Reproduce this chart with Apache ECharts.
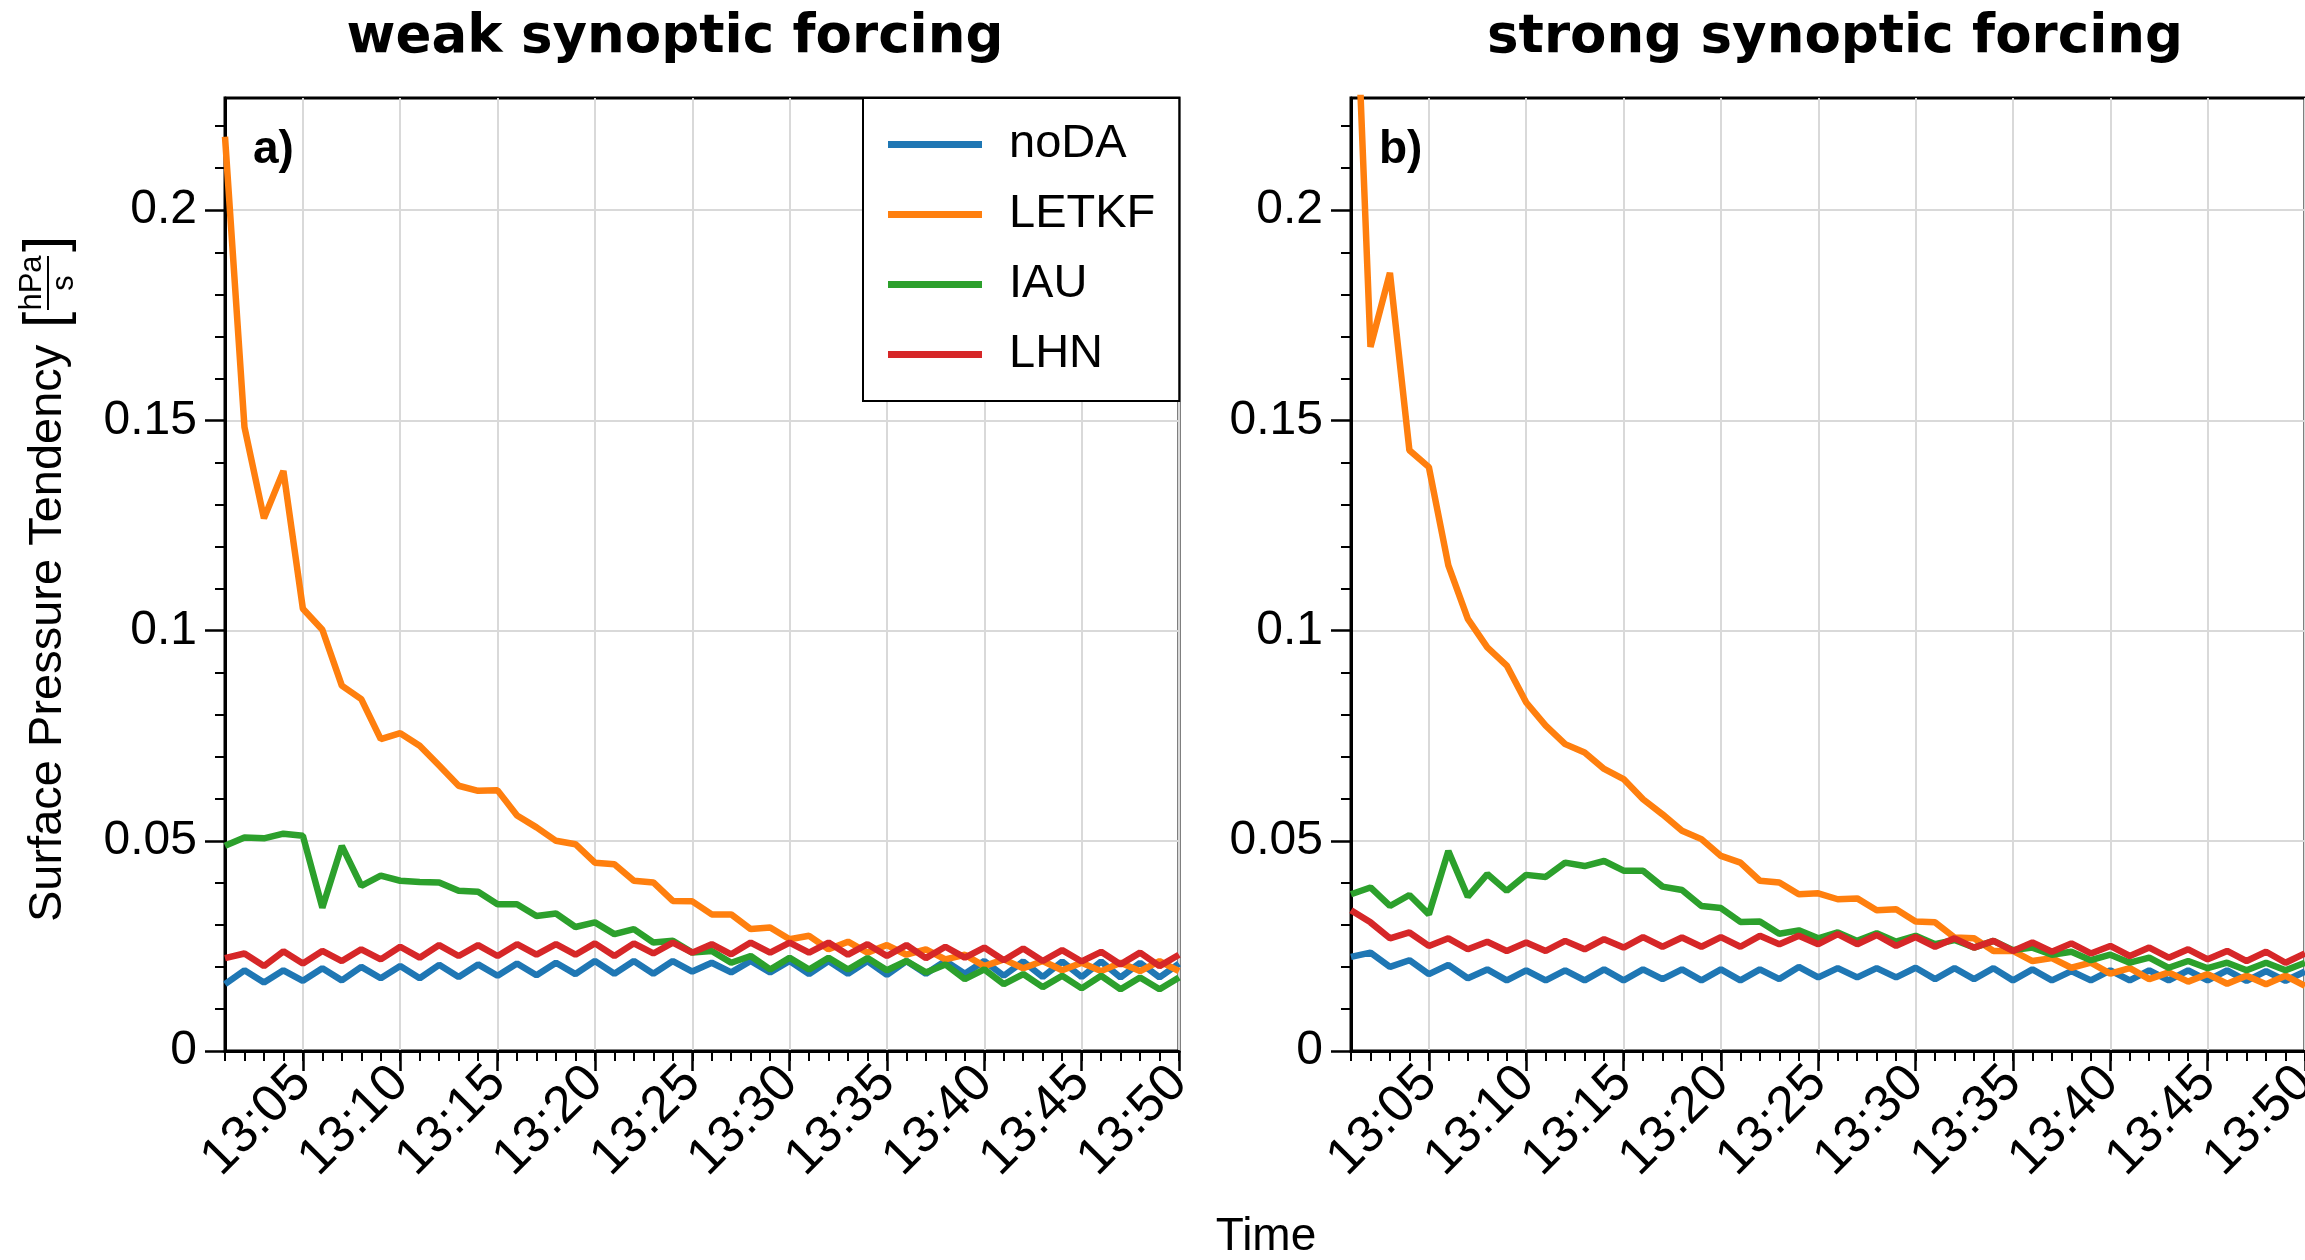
<!DOCTYPE html>
<html>
<head>
<meta charset="utf-8">
<script src="https://cdn.jsdelivr.net/npm/echarts@6/dist/echarts.min.js"></script>
<style>
html,body{margin:0;padding:0;background:#fff;overflow:hidden;}
#chart{width:2305px;height:1260px;}
</style>
</head>
<body>
<div id="chart"></div>
<script>
const times = ['13:01','13:02','13:03','13:04','13:05','13:06','13:07','13:08','13:09','13:10',
  '13:11','13:12','13:13','13:14','13:15','13:16','13:17','13:18','13:19','13:20',
  '13:21','13:22','13:23','13:24','13:25','13:26','13:27','13:28','13:29','13:30',
  '13:31','13:32','13:33','13:34','13:35','13:36','13:37','13:38','13:39','13:40',
  '13:41','13:42','13:43','13:44','13:45','13:46','13:47','13:48','13:49','13:50'];
const yTicks = [0, 0.05, 0.1, 0.15, 0.2];
const seriesNames = ['noDA', 'LETKF', 'IAU', 'LHN'];
const panelTitles = ['weak synoptic forcing', 'strong synoptic forcing'];
const panelLetters = ['a)', 'b)'];

const noDA_weak = [0.0159,0.0192,0.0163,0.0192,0.0167,0.0197,0.0168,0.0200,0.0173,0.0202,
  0.0173,0.0205,0.0176,0.0206,0.0179,0.0208,0.0180,0.0210,0.0183,0.0214,
  0.0184,0.0214,0.0184,0.0214,0.0189,0.0210,0.0187,0.0214,0.0187,0.0214,
  0.0183,0.0214,0.0184,0.0214,0.0181,0.0214,0.0184,0.0214,0.0184,0.0214,
  0.0179,0.0213,0.0176,0.0213,0.0176,0.0213,0.0175,0.0210,0.0175,0.0208];
const LETKF_weak = [0.2175,0.1484,0.1267,0.1380,0.1052,0.1002,0.0869,0.0837,0.0742,0.0756,
  0.0726,0.0679,0.0631,0.0619,0.0620,0.0560,0.0532,0.0500,0.0492,0.0448,
  0.0444,0.0405,0.0401,0.0357,0.0356,0.0325,0.0325,0.0290,0.0294,0.0266,
  0.0274,0.0242,0.0260,0.0234,0.0252,0.0229,0.0242,0.0218,0.0229,0.0202,
  0.0218,0.0197,0.0214,0.0192,0.0210,0.0190,0.0210,0.0190,0.0214,0.0190];
const IAU_weak = [0.0488,0.0508,0.0506,0.0517,0.0512,0.0341,0.0488,0.0393,0.0417,0.0405,
  0.0402,0.0401,0.0381,0.0379,0.0349,0.0349,0.0321,0.0327,0.0295,0.0306,
  0.0278,0.0290,0.0258,0.0262,0.0234,0.0238,0.0210,0.0226,0.0194,0.0222,
  0.0194,0.0222,0.0194,0.0221,0.0192,0.0214,0.0187,0.0206,0.0171,0.0194,
  0.0159,0.0183,0.0152,0.0179,0.0149,0.0179,0.0147,0.0175,0.0147,0.0175];
const LHN_weak = [0.0221,0.0232,0.0202,0.0237,0.0208,0.0238,0.0214,0.0242,0.0218,0.0248,
  0.0222,0.0252,0.0226,0.0252,0.0226,0.0254,0.0229,0.0254,0.0229,0.0256,
  0.0226,0.0256,0.0232,0.0258,0.0234,0.0254,0.0230,0.0258,0.0234,0.0258,
  0.0234,0.0258,0.0229,0.0254,0.0226,0.0252,0.0221,0.0248,0.0222,0.0246,
  0.0216,0.0244,0.0214,0.0240,0.0213,0.0236,0.0206,0.0234,0.0202,0.0229];

const noDA_strong = [0.0224,0.0234,0.0200,0.0216,0.0183,0.0205,0.0173,0.0194,0.0168,0.0192,
  0.0168,0.0192,0.0168,0.0194,0.0168,0.0194,0.0171,0.0194,0.0168,0.0194,
  0.0168,0.0194,0.0171,0.0200,0.0175,0.0197,0.0175,0.0197,0.0175,0.0198,
  0.0171,0.0197,0.0171,0.0197,0.0168,0.0194,0.0168,0.0190,0.0168,0.0192,
  0.0168,0.0192,0.0168,0.0192,0.0168,0.0192,0.0167,0.0190,0.0167,0.0189];
const LETKF_strong = [0.2850,0.1675,0.1851,0.1429,0.1389,0.1155,0.1028,0.0960,0.0917,0.0829,
  0.0774,0.0730,0.0710,0.0671,0.0647,0.0599,0.0563,0.0524,0.0504,0.0464,
  0.0448,0.0405,0.0401,0.0373,0.0375,0.0361,0.0363,0.0335,0.0337,0.0308,
  0.0306,0.0270,0.0268,0.0238,0.0238,0.0214,0.0221,0.0198,0.0210,0.0184,
  0.0197,0.0171,0.0187,0.0165,0.0183,0.0160,0.0179,0.0159,0.0179,0.0155];
const IAU_strong = [0.0373,0.0389,0.0345,0.0371,0.0325,0.0476,0.0367,0.0421,0.0381,0.0419,
  0.0414,0.0448,0.0440,0.0452,0.0429,0.0429,0.0391,0.0383,0.0345,0.0340,
  0.0307,0.0308,0.0279,0.0287,0.0268,0.0282,0.0262,0.0280,0.0260,0.0274,
  0.0254,0.0264,0.0246,0.0262,0.0240,0.0246,0.0229,0.0236,0.0216,0.0229,
  0.0210,0.0222,0.0198,0.0214,0.0197,0.0210,0.0192,0.0210,0.0192,0.0210];
const LHN_strong = [0.0335,0.0306,0.0268,0.0282,0.0250,0.0268,0.0242,0.0260,0.0238,0.0258,
  0.0238,0.0262,0.0242,0.0266,0.0246,0.0271,0.0248,0.0270,0.0248,0.0271,
  0.0248,0.0274,0.0254,0.0274,0.0254,0.0278,0.0254,0.0276,0.0250,0.0271,
  0.0248,0.0268,0.0246,0.0262,0.0238,0.0258,0.0236,0.0256,0.0232,0.0250,
  0.0226,0.0246,0.0222,0.0242,0.0218,0.0238,0.0214,0.0236,0.0210,0.0232];

const colors = ['#1f77b4', '#ff7f0e', '#2ca02c', '#d62728'];
const panels = [
  [noDA_weak, LETKF_weak, IAU_weak, LHN_weak],
  [noDA_strong, LETKF_strong, IAU_strong, LHN_strong]
];

const FONT = '"Liberation Sans", Arial, sans-serif';
const yMax = 0.2267;
const gridLefts = [225, 1351];
const gridTop = 98, gridW = 954, gridH = 953;
const isMajor = (i) => i % 5 === 4;

const grids = [], xAxes = [], yAxes = [], series = [];
gridLefts.forEach((left, g) => {
  grids.push({left: left, top: gridTop, width: gridW, height: gridH, show: true,
    outerBoundsMode: 'none', containLabel: false,
    borderColor: '#000', borderWidth: 3, backgroundColor: 'transparent'});
  xAxes.push({type: 'category', gridIndex: g, position: 'bottom', data: times, boundaryGap: false,
    axisLine: {show: true, lineStyle: {color: '#000', width: 3}},
    axisTick: {show: true, length: 20, interval: isMajor, lineStyle: {color: '#000', width: 2.5}},
    axisLabel: {interval: isMajor, rotate: 45, margin: 24, fontSize: 52, color: '#000', fontFamily: FONT},
    splitLine: {show: true, interval: isMajor, lineStyle: {color: '#d9d9d9', width: 2}}
  });
  xAxes.push({type: 'category', gridIndex: g, position: 'bottom', data: times, boundaryGap: false,
    axisLine: {show: false},
    axisTick: {show: true, length: 10, interval: 0, lineStyle: {color: '#000', width: 2}},
    axisLabel: {show: false}, splitLine: {show: false}
  });
  yAxes.push({type: 'value', gridIndex: g, position: 'left', min: 0, max: yMax, interval: 0.05,
    axisLine: {show: true, lineStyle: {color: '#000', width: 3}},
    axisTick: {show: true, length: 20, customValues: yTicks, lineStyle: {color: '#000', width: 2.5}},
    axisLabel: {customValues: yTicks, margin: 28, fontSize: 48, color: '#000',
      fontFamily: FONT, formatter: (v) => String(v)},
    minorTick: {show: true, splitNumber: 5, length: 10, lineStyle: {color: '#000', width: 2}},
    splitLine: {show: true, lineStyle: {color: '#d9d9d9', width: 2}}
  });
  panels[g].forEach((vals, s) => {
    series.push({name: seriesNames[s], type: 'line', xAxisIndex: g * 2, yAxisIndex: g,
      data: vals, symbol: 'none', showSymbol: false, clip: true, color: colors[s],
      lineStyle: {color: colors[s], width: 6.5}, emphasis: {disabled: true}, animation: false});
  });
});

const graphics = [];
panelTitles.forEach((t, g) => {
  graphics.push({type: 'text', x: [675, 1835][g], y: 38,
    style: {text: t, font: 'bold 53px "DejaVu Sans"', fill: '#000', align: 'center', verticalAlign: 'middle'}});
  graphics.push({type: 'text', x: gridLefts[g] + 28, y: 150,
    style: {text: panelLetters[g], font: 'bold 46px ' + FONT, fill: '#000', align: 'left', verticalAlign: 'middle'}});
});
graphics.push({type: 'text', x: 1266, y: 1237,
  style: {text: 'Time', font: '46px ' + FONT, fill: '#000', align: 'center', verticalAlign: 'middle'}});
graphics.push({type: 'group', x: 48, y: 570, rotation: Math.PI / 2, children: [
  {type: 'text', x: -352, y: 0, style: {text: 'Surface Pressure Tendency', font: '47px ' + FONT, fill: '#000', align: 'left', verticalAlign: 'middle'}},
  {type: 'text', x: 242, y: 0, style: {text: '[', font: '58px ' + FONT, fill: '#000', align: 'left', verticalAlign: 'middle'}},
  {type: 'text', x: 287, y: -16, style: {text: 'hPa', font: '31px ' + FONT, fill: '#000', align: 'center', verticalAlign: 'middle'}},
  {type: 'line', shape: {x1: 260, y1: 0, x2: 314, y2: 0}, style: {stroke: '#000', lineWidth: 2}},
  {type: 'text', x: 287, y: 16, style: {text: 's', font: '31px ' + FONT, fill: '#000', align: 'center', verticalAlign: 'middle'}},
  {type: 'text', x: 318, y: 0, style: {text: ']', font: '58px ' + FONT, fill: '#000', align: 'left', verticalAlign: 'middle'}}
]});

const chart = echarts.init(document.getElementById('chart'), null, {renderer: 'canvas'});
chart.setOption({
  animation: false,
  backgroundColor: '#fff',
  grid: grids,
  xAxis: xAxes,
  yAxis: yAxes,
  legend: {data: seriesNames, orient: 'vertical', left: 863, top: 98,
    icon: 'rect', itemWidth: 94, itemHeight: 7, itemGap: 23,
    padding: [23, 24, 23, 25], backgroundColor: '#fff', borderColor: '#000', borderWidth: 2, borderRadius: 0,
    textStyle: {fontSize: 47, lineHeight: 46, color: '#000', fontFamily: FONT, padding: [0, 0, 0, 22]},
    selectedMode: false},
  series: series,
  graphic: graphics
});
</script>
</body>
</html>
